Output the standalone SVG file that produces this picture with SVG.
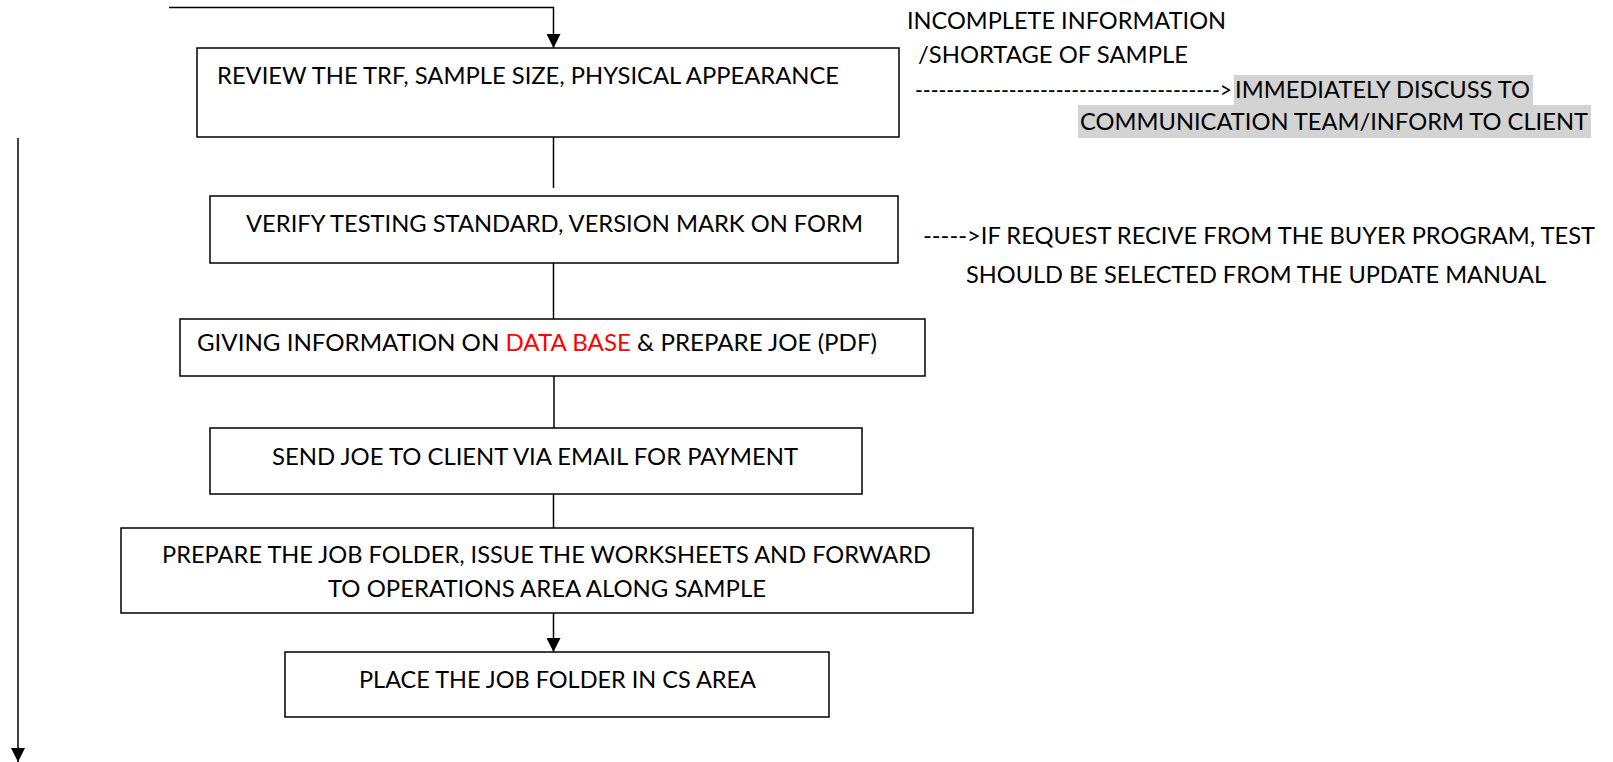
<svg xmlns="http://www.w3.org/2000/svg" width="1613" height="762" viewBox="0 0 1613 762">
<style>
.box{fill:#fff;stroke:#000;stroke-width:1.5}
.t{font-family:Lato,"Open Sans","Liberation Sans",sans-serif;font-size:23px;fill:#000}
.ln{fill:none;stroke:#000;stroke-width:1.5}
.hl{fill:#d3d3d3}
</style>
<defs>
<marker id="ah" markerUnits="userSpaceOnUse" markerWidth="14" markerHeight="14" viewBox="0 0 14 14" refX="14" refY="7" orient="auto">
<path d="M0 0 L14 7 L0 14 Z" fill="#000"/>
</marker>
</defs>
<rect width="1613" height="762" fill="#fff"/>
<g id="connectors">
<path class="ln" d="M169 7.5 H553.5 V48" marker-end="url(#ah)"/>
<path class="ln" d="M553.5 137 V188"/>
<path class="ln" d="M553.5 263 V319"/>
<path class="ln" d="M554 376 V428"/>
<path class="ln" d="M553.5 494 V528"/>
<path class="ln" d="M553.5 613 V652" marker-end="url(#ah)"/>
<path class="ln" d="M18 138 V762" marker-end="url(#ah)"/>
</g>
<g id="n1">
<rect class="box" x="197" y="48" width="702" height="89"/>
<text class="t" x="217" y="84" textLength="622" lengthAdjust="spacingAndGlyphs">REVIEW THE TRF, SAMPLE SIZE, PHYSICAL APPEARANCE</text>
</g>
<g id="n2">
<rect class="box" x="210" y="196" width="688" height="67"/>
<text class="t" x="246" y="232" textLength="617" lengthAdjust="spacingAndGlyphs">VERIFY TESTING STANDARD, VERSION MARK ON FORM</text>
</g>
<g id="n3">
<rect class="box" x="180" y="319" width="745" height="57"/>
<text class="t" x="197" y="351" textLength="680" lengthAdjust="spacingAndGlyphs">GIVING INFORMATION ON <tspan fill="#ff0000">DATA BASE</tspan> &amp; PREPARE JOE (PDF)</text>
</g>
<g id="n4">
<rect class="box" x="210" y="428" width="652" height="66"/>
<text class="t" x="272" y="465" textLength="526" lengthAdjust="spacingAndGlyphs">SEND JOE TO CLIENT VIA EMAIL FOR PAYMENT</text>
</g>
<g id="n5">
<rect class="box" x="121" y="528" width="852" height="85"/>
<text class="t" x="162" y="563" textLength="769" lengthAdjust="spacingAndGlyphs">PREPARE THE JOB FOLDER, ISSUE THE WORKSHEETS AND FORWARD</text>
<text class="t" x="328" y="597" textLength="438" lengthAdjust="spacingAndGlyphs">TO OPERATIONS AREA ALONG SAMPLE</text>
</g>
<g id="n6">
<rect class="box" x="285" y="652" width="544" height="65"/>
<text class="t" x="359" y="688" textLength="397" lengthAdjust="spacingAndGlyphs">PLACE THE JOB FOLDER IN CS AREA</text>
</g>
<g id="note1">
<text class="t" x="907" y="29" textLength="319" lengthAdjust="spacingAndGlyphs">INCOMPLETE INFORMATION</text>
<text class="t" x="918" y="63" textLength="270" lengthAdjust="spacingAndGlyphs">/SHORTAGE OF SAMPLE</text>
<rect class="hl" x="1234" y="75" width="299" height="30"/>
<rect class="hl" x="1078" y="105" width="513" height="33"/>
<text class="t" y="98"><tspan x="915" textLength="317" lengthAdjust="spacingAndGlyphs">---------------------------------------&gt;</tspan><tspan x="1235" textLength="295" lengthAdjust="spacingAndGlyphs">IMMEDIATELY DISCUSS TO</tspan></text>
<text class="t" x="1080" y="130" textLength="508" lengthAdjust="spacingAndGlyphs">COMMUNICATION TEAM/INFORM TO CLIENT</text>
</g>
<g id="note2">
<text class="t" x="923" y="244" textLength="672" lengthAdjust="spacingAndGlyphs">-----&gt;IF REQUEST RECIVE FROM THE BUYER PROGRAM, TEST</text>
<text class="t" x="966" y="283" textLength="580" lengthAdjust="spacingAndGlyphs">SHOULD BE SELECTED FROM THE UPDATE MANUAL</text>
</g>
</svg>
